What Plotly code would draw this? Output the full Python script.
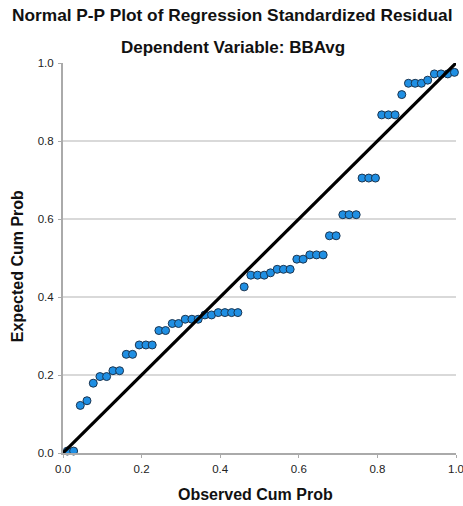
import plotly.graph_objects as go

observed = [0.011, 0.027, 0.044, 0.061, 0.077, 0.094, 0.111, 0.127, 0.144, 0.161,
            0.177, 0.194, 0.211, 0.227, 0.244, 0.261, 0.278, 0.294, 0.311, 0.328,
            0.344, 0.361, 0.378, 0.395, 0.412, 0.429, 0.445, 0.461, 0.478, 0.495,
            0.512, 0.528, 0.545, 0.561, 0.578, 0.595, 0.611, 0.628, 0.645, 0.662,
            0.678, 0.695, 0.712, 0.728, 0.746, 0.761, 0.778, 0.795, 0.811, 0.828,
            0.845, 0.862, 0.879, 0.896, 0.912, 0.928, 0.945, 0.962, 0.979, 0.996]
expected = [0.005, 0.005, 0.122, 0.134, 0.179, 0.196, 0.196, 0.211, 0.211, 0.253,
            0.253, 0.277, 0.277, 0.277, 0.314, 0.314, 0.332, 0.332, 0.343, 0.343,
            0.343, 0.354, 0.354, 0.360, 0.360, 0.360, 0.360, 0.426, 0.456, 0.456,
            0.456, 0.462, 0.471, 0.471, 0.471, 0.497, 0.497, 0.508, 0.508, 0.508,
            0.557, 0.557, 0.611, 0.611, 0.611, 0.705, 0.705, 0.705, 0.867, 0.867,
            0.867, 0.919, 0.948, 0.948, 0.948, 0.956, 0.972, 0.972, 0.972, 0.976]
ref_line = [0.0, 1.0]
tick_vals = [0.0, 0.2, 0.4, 0.6, 0.8, 1.0]
tick_text = ["0.0", "0.2", "0.4", "0.6", "0.8", "1.0"]

fig = go.Figure()
fig.add_trace(go.Scatter(
    x=observed, y=expected, mode="markers",
    marker=dict(size=8, color="#1f8fe3", line=dict(color="#1b3550", width=1)),
    hoverinfo="x+y", showlegend=False, cliponaxis=False))
fig.add_trace(go.Scatter(
    x=ref_line, y=ref_line, mode="lines",
    line=dict(color="black", width=3.2), showlegend=False, cliponaxis=False))

font_main = "Liberation Sans, Arial, sans-serif"
fig.update_layout(
    width=463, height=506,
    margin=dict(l=62.5, r=7, t=63, b=52.5, pad=0, autoexpand=False),
    paper_bgcolor="white", plot_bgcolor="white",
    font=dict(family=font_main, color="#222"),
    xaxis=dict(range=[0, 1], tickvals=tick_vals, ticktext=tick_text,
               showgrid=False, zeroline=False, showline=True, automargin=False,
               linecolor="#aaaaaa", linewidth=2, ticks="outside", ticklen=3,
               tickcolor="#aaaaaa", ticklabelstandoff=1,
               ticklabeloverflow="allow",
               tickfont=dict(size=11.5, color="#222")),
    yaxis=dict(range=[0, 1], tickvals=tick_vals, ticktext=tick_text,
               showgrid=True, gridcolor="#d9d9d9", gridwidth=1.5,
               zeroline=False, showline=True, automargin=False,
               linecolor="#aaaaaa", linewidth=2, ticks="outside", ticklen=3,
               tickcolor="#aaaaaa", ticklabelstandoff=2,
               ticklabeloverflow="allow",
               tickfont=dict(size=11.5, color="#222")),
    annotations=[
        dict(text="<b>Normal P-P Plot of Regression Standardized Residual</b>",
             xref="paper", yref="paper", x=0.4295, y=1.123, showarrow=False,
             xanchor="center", yanchor="middle", font=dict(size=17.3, color="#111")),
        dict(text="<b>Dependent Variable: BBAvg</b>",
             xref="paper", yref="paper", x=0.432, y=1.041, showarrow=False,
             xanchor="center", yanchor="middle", font=dict(size=17, color="#111")),
        dict(text="<b>Observed Cum Prob</b>",
             xref="paper", yref="paper", x=0.489, y=-0.106, showarrow=False,
             xanchor="center", yanchor="middle", font=dict(size=16, color="#111")),
        dict(text="<b>Expected Cum Prob</b>", textangle=-90,
             xref="paper", yref="paper", x=-0.1156, y=0.478, showarrow=False,
             xanchor="center", yanchor="middle", font=dict(size=16, color="#111")),
    ],
)

fig.write_html("out.html", config={"displayModeBar": False},
               post_script="document.body.style.margin='0';document.body.style.padding='0';")
